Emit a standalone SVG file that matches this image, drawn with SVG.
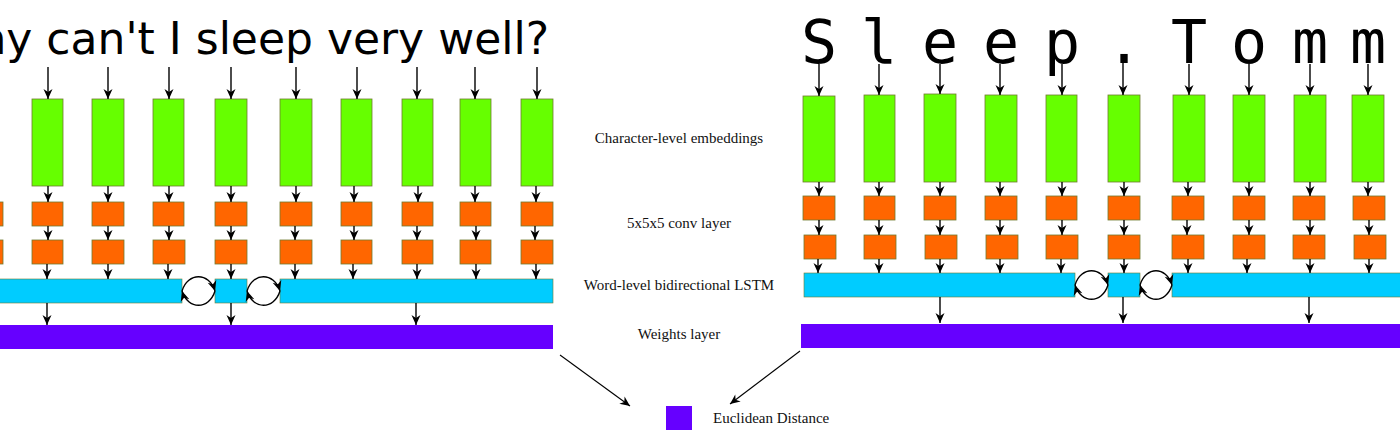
<svg xmlns="http://www.w3.org/2000/svg" width="1400" height="445" viewBox="0 0 1400 445">
<style>
.g{fill:#66ff00;stroke:#6f7a30;stroke-width:0.8}
.o{fill:#ff6600;stroke:#6f7a30;stroke-width:0.8}
.c{fill:#00ccff;stroke:#6f7a30;stroke-width:0.6}
.p{fill:#6600ff;stroke:none}
.a{stroke:#000;stroke-width:1.4;fill:none;marker-end:url(#ah)}
.lbl{font-family:"Liberation Serif",serif;font-size:15px;fill:#111;text-anchor:middle}
.big{font-family:"DejaVu Sans",sans-serif;font-size:44px;fill:#000}
.mono{font-family:"DejaVu Sans Mono",monospace;font-size:60px;fill:#000;text-anchor:middle}
</style>
<defs>
<marker id="ah" markerUnits="userSpaceOnUse" markerWidth="14" markerHeight="12" viewBox="-11 -6 12 12" refX="0" refY="0" orient="auto">
<path d="M0,0 L-10,-4.5 L-7,0 L-10,4.5 Z" fill="#000"/>
</marker>
</defs>
<rect width="1400" height="445" fill="#fff"/>

<g id="left-sentence"><text class="big" x="549" y="54" text-anchor="end">Why can't I sleep very well?</text></g>

<g id="left-embeddings">
<rect class="g" x="32" y="99" width="31" height="87"/>
<rect class="g" x="92" y="99" width="32" height="87"/>
<rect class="g" x="153" y="99" width="31" height="87"/>
<rect class="g" x="215" y="99" width="32" height="87"/>
<rect class="g" x="280" y="99" width="32" height="87"/>
<rect class="g" x="341" y="99" width="31" height="87"/>
<rect class="g" x="402" y="99" width="31" height="87"/>
<rect class="g" x="460" y="99" width="31" height="87"/>
<rect class="g" x="521" y="99" width="32" height="87"/>
</g>
<g id="left-conv1">
<rect class="o" x="-29" y="202" width="32" height="24"/>
<rect class="o" x="32" y="202" width="31" height="24"/>
<rect class="o" x="92" y="202" width="32" height="24"/>
<rect class="o" x="153" y="202" width="31" height="24"/>
<rect class="o" x="215" y="202" width="32" height="24"/>
<rect class="o" x="280" y="202" width="32" height="24"/>
<rect class="o" x="341" y="202" width="31" height="24"/>
<rect class="o" x="402" y="202" width="31" height="24"/>
<rect class="o" x="460" y="202" width="31" height="24"/>
<rect class="o" x="521" y="202" width="32" height="24"/>
</g>
<g id="left-conv2">
<rect class="o" x="-29" y="240" width="32" height="24"/>
<rect class="o" x="32" y="240" width="31" height="24"/>
<rect class="o" x="92" y="240" width="32" height="24"/>
<rect class="o" x="153" y="240" width="32" height="24"/>
<rect class="o" x="215" y="240" width="32" height="24"/>
<rect class="o" x="280" y="240" width="32" height="24"/>
<rect class="o" x="341" y="240" width="31" height="24"/>
<rect class="o" x="402" y="240" width="31" height="24"/>
<rect class="o" x="460" y="240" width="31" height="24"/>
<rect class="o" x="521" y="240" width="32" height="24"/>
</g>
<g id="left-lstm">
<rect class="c" x="-2" y="279" width="184" height="24"/>
<rect class="c" x="215" y="279" width="32" height="24"/>
<rect class="c" x="280" y="279" width="273" height="24"/>
</g>
<g id="left-weights"><rect class="p" x="-2" y="325" width="555" height="24"/></g>

<g id="right-sentence">
<text class="mono" x="819" y="63">S</text>
<text class="mono" x="879" y="63">l</text>
<text class="mono" x="940" y="63">e</text>
<text class="mono" x="1001" y="63">e</text>
<text class="mono" x="1062" y="63">p</text>
<text class="mono" x="1124" y="63">.</text>
<text class="mono" x="1189" y="63">T</text>
<text class="mono" x="1249" y="63">o</text>
<text class="mono" x="1310" y="63">m</text>
<text class="mono" x="1368" y="63">m</text>
</g>
<g id="right-embeddings">
<rect class="g" x="803" y="96" width="32" height="86"/>
<rect class="g" x="864" y="95" width="31" height="87"/>
<rect class="g" x="924" y="94" width="32" height="88"/>
<rect class="g" x="985" y="95" width="32" height="87"/>
<rect class="g" x="1046" y="95" width="31" height="87"/>
<rect class="g" x="1108" y="95" width="32" height="87"/>
<rect class="g" x="1173" y="95" width="32" height="87"/>
<rect class="g" x="1233" y="95" width="32" height="87"/>
<rect class="g" x="1294" y="95" width="32" height="87"/>
<rect class="g" x="1352" y="95" width="32" height="87"/>
</g>
<g id="right-conv1">
<rect class="o" x="803" y="196" width="32" height="24"/>
<rect class="o" x="864" y="196" width="31" height="24"/>
<rect class="o" x="924" y="196" width="32" height="24"/>
<rect class="o" x="985" y="196" width="32" height="24"/>
<rect class="o" x="1046" y="196" width="31" height="24"/>
<rect class="o" x="1108" y="196" width="32" height="24"/>
<rect class="o" x="1172" y="196" width="32" height="24"/>
<rect class="o" x="1233" y="196" width="32" height="24"/>
<rect class="o" x="1293" y="196" width="32" height="24"/>
<rect class="o" x="1353" y="196" width="32" height="24"/>
</g>
<g id="right-conv2">
<rect class="o" x="804" y="235" width="32" height="24"/>
<rect class="o" x="864" y="235" width="32" height="24"/>
<rect class="o" x="925" y="235" width="32" height="24"/>
<rect class="o" x="986" y="235" width="32" height="24"/>
<rect class="o" x="1046" y="235" width="32" height="24"/>
<rect class="o" x="1108" y="235" width="32" height="24"/>
<rect class="o" x="1172" y="235" width="32" height="24"/>
<rect class="o" x="1233" y="235" width="32" height="24"/>
<rect class="o" x="1293" y="235" width="32" height="24"/>
<rect class="o" x="1354" y="235" width="32" height="24"/>
</g>
<g id="right-lstm">
<rect class="c" x="804" y="273" width="271" height="24"/>
<rect class="c" x="1108" y="273" width="32" height="24"/>
<rect class="c" x="1172" y="273" width="230" height="24"/>
</g>
<g id="right-weights"><rect class="p" x="801" y="324" width="601" height="24"/></g>

<g id="labels">
<text class="lbl" x="679" y="143">Character-level embeddings</text>
<text class="lbl" x="679" y="228">5x5x5 conv layer</text>
<text class="lbl" x="679" y="290">Word-level bidirectional LSTM</text>
<text class="lbl" x="679" y="339">Weights layer</text>
</g>
<g id="distance">
<rect class="p" x="666" y="406" width="26" height="24"/>
<text class="lbl" x="713" y="423" style="text-anchor:start">Euclidean Distance</text>
</g>

<g id="connectors">
<path class="a" d="M48,67 V99"/><path class="a" d="M108,67 V99"/><path class="a" d="M169,67 V99"/>
<path class="a" d="M231,67 V99"/><path class="a" d="M296,67 V99"/><path class="a" d="M357,67 V99"/>
<path class="a" d="M417,67 V99"/><path class="a" d="M475,67 V99"/><path class="a" d="M537,67 V99"/>
<path class="a" d="M48,186 V202"/><path class="a" d="M108,186 V202"/><path class="a" d="M169,186 V202"/>
<path class="a" d="M231,186 V202"/><path class="a" d="M296,186 V202"/><path class="a" d="M354,186 V202"/>
<path class="a" d="M418,186 V202"/><path class="a" d="M475,186 V202"/><path class="a" d="M536,186 V202"/>
<path class="a" d="M-13,226 V240"/>
<path class="a" d="M48,226 V240"/><path class="a" d="M108,226 V240"/><path class="a" d="M169,226 V240"/>
<path class="a" d="M231,226 V240"/><path class="a" d="M295,226 V240"/><path class="a" d="M354,226 V240"/>
<path class="a" d="M417,226 V240"/><path class="a" d="M476,226 V240"/><path class="a" d="M535,226 V240"/>
<path class="a" d="M47,264 V279"/><path class="a" d="M108,264 V279"/><path class="a" d="M168,264 V279"/>
<path class="a" d="M231,264 V279"/><path class="a" d="M295,264 V279"/><path class="a" d="M353,264 V279"/>
<path class="a" d="M417,264 V279"/><path class="a" d="M476,264 V279"/><path class="a" d="M536,264 V279"/>
<path class="a" d="M182,291 C188,272 209,272 215,291"/>
<path class="a" d="M215,291 C209,310 188,310 182,291"/>
<path class="a" d="M247,291 C253,272 274,272 280,291"/>
<path class="a" d="M280,291 C274,310 253,310 247,291"/>
<path class="a" d="M47,303 V325"/><path class="a" d="M231,303 V325"/><path class="a" d="M416,303 V325"/>

<path class="a" d="M819,64 V96"/><path class="a" d="M879,64 V95"/><path class="a" d="M940,64 V94"/>
<path class="a" d="M1000,64 V95"/><path class="a" d="M1062,64 V95"/><path class="a" d="M1123,62 V95"/>
<path class="a" d="M1189,64 V95"/><path class="a" d="M1249,64 V95"/><path class="a" d="M1310,64 V95"/>
<path class="a" d="M1368,64 V95"/>
<path class="a" d="M819,182 V196"/><path class="a" d="M879,182 V196"/><path class="a" d="M940,182 V196"/>
<path class="a" d="M1000,182 V196"/><path class="a" d="M1062,182 V196"/><path class="a" d="M1124,182 V196"/>
<path class="a" d="M1188,182 V196"/><path class="a" d="M1249,182 V196"/><path class="a" d="M1310,182 V196"/>
<path class="a" d="M1368,182 V196"/>
<path class="a" d="M819,220 V235"/><path class="a" d="M879,220 V235"/><path class="a" d="M940,220 V235"/>
<path class="a" d="M1000,220 V235"/><path class="a" d="M1062,220 V235"/><path class="a" d="M1124,220 V235"/>
<path class="a" d="M1187,220 V235"/><path class="a" d="M1249,220 V235"/><path class="a" d="M1310,220 V235"/>
<path class="a" d="M1369,220 V235"/>
<path class="a" d="M818,259 V273"/><path class="a" d="M879,259 V273"/><path class="a" d="M940,259 V273"/>
<path class="a" d="M1000,259 V273"/><path class="a" d="M1061,259 V273"/><path class="a" d="M1124,259 V273"/>
<path class="a" d="M1188,259 V273"/><path class="a" d="M1247,259 V273"/><path class="a" d="M1310,259 V273"/>
<path class="a" d="M1369,259 V273"/>
<path class="a" d="M1075,285 C1081,266 1102,266 1108,285"/>
<path class="a" d="M1108,285 C1102,304 1081,304 1075,285"/>
<path class="a" d="M1140,285 C1146,266 1166,266 1172,285"/>
<path class="a" d="M1172,285 C1166,304 1146,304 1140,285"/>
<path class="a" d="M940,297 V323"/><path class="a" d="M1123,297 V323"/><path class="a" d="M1309,297 V323"/>
<path class="a" style="stroke-width:1.1" d="M560,355 L630,406"/>
<path class="a" style="stroke-width:1.1" d="M800,351 L730,404"/>
</g>
</svg>
